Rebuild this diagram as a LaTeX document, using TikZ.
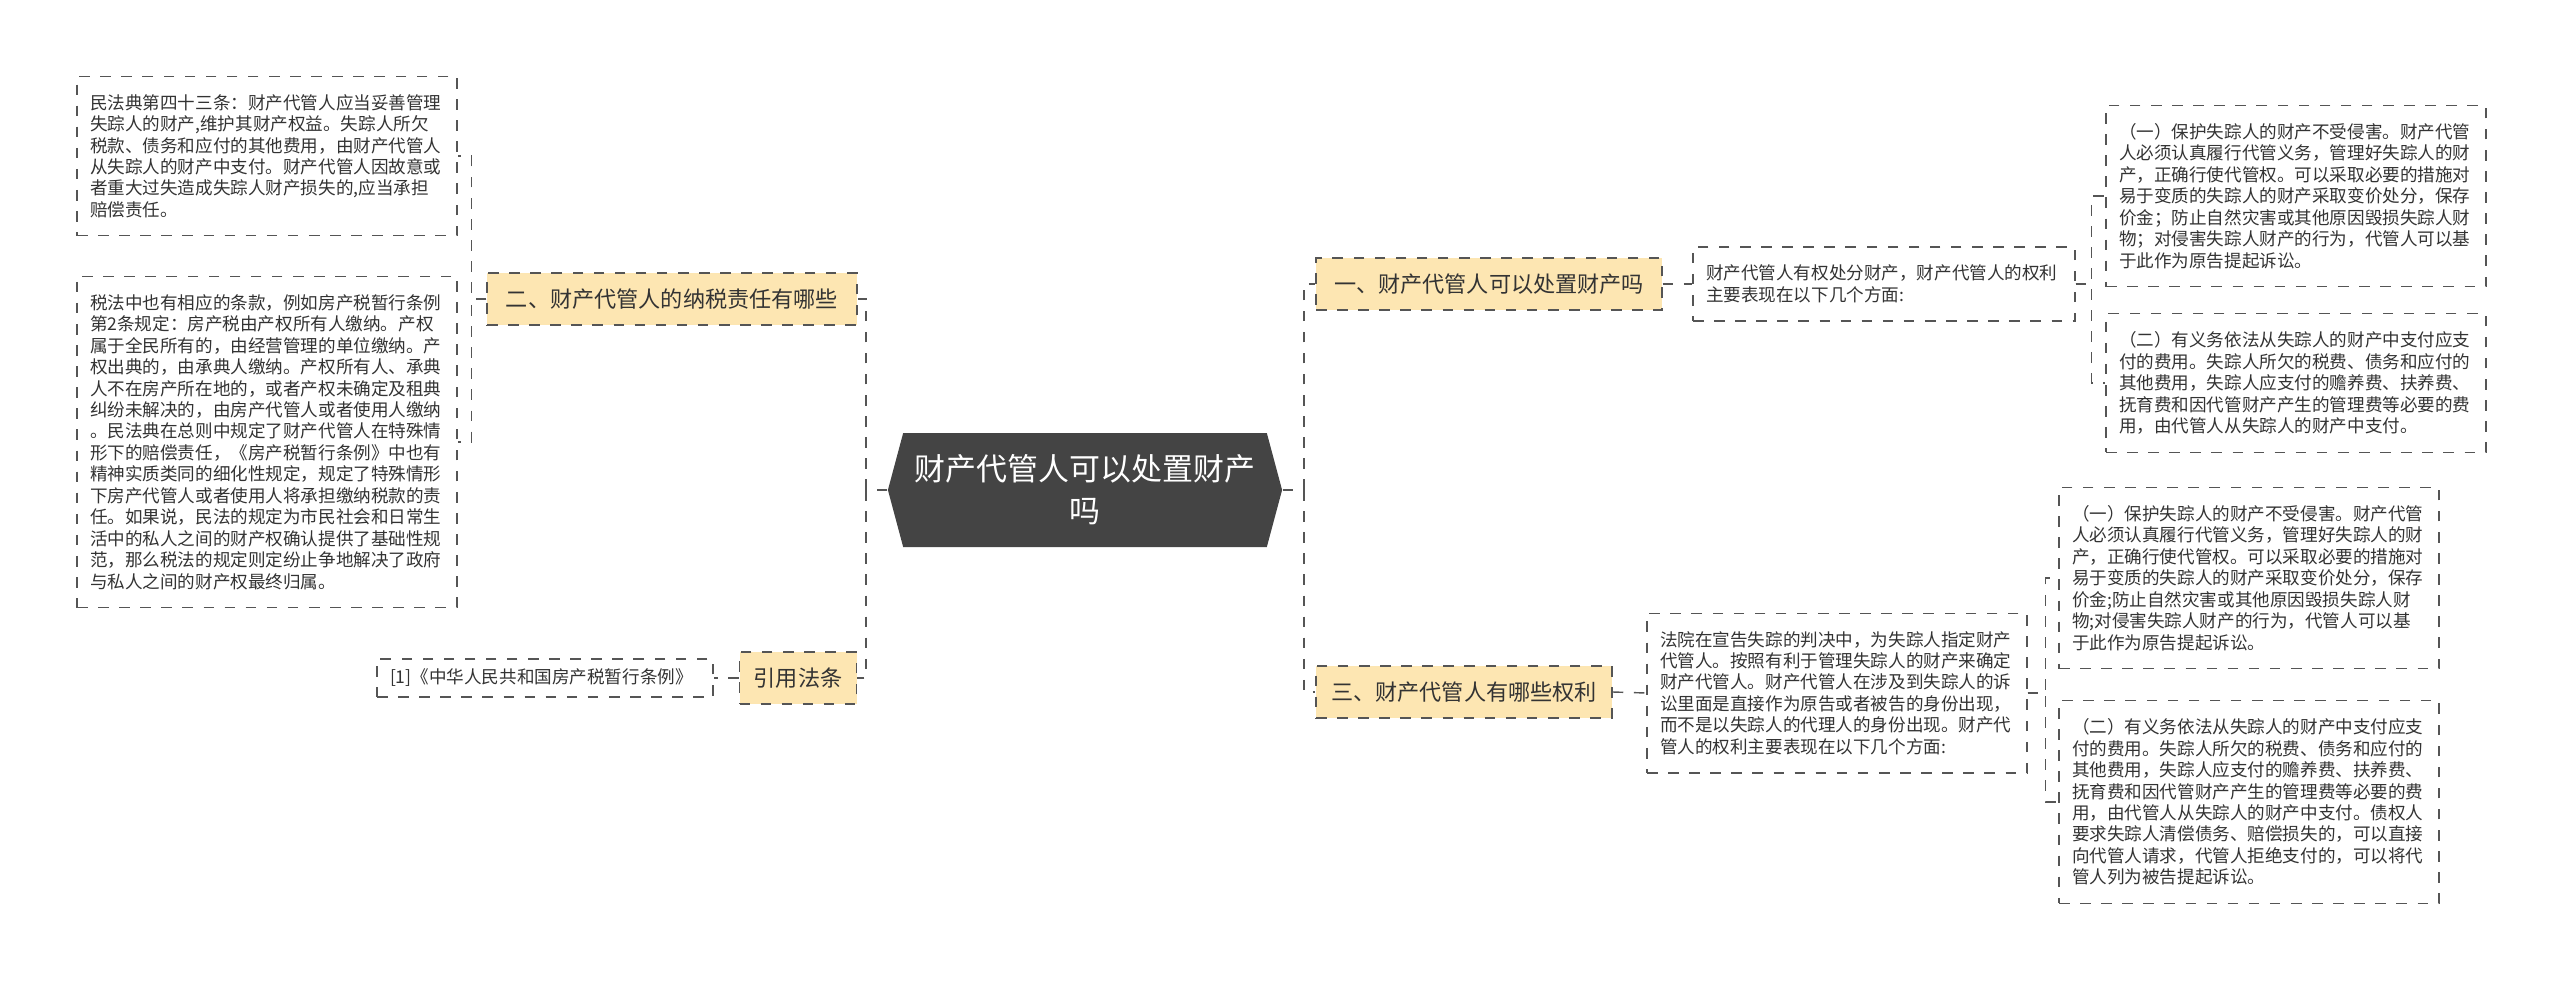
\documentclass[tikz,border=0pt]{standalone}
\usepackage{fontspec}
\setmainfont{Noto Sans CJK SC}
\usetikzlibrary{shapes.symbols}
\definecolor{hubgray}{HTML}{444444}
\definecolor{branchfill}{HTML}{FDE6B2}
\definecolor{linegray}{HTML}{555555}
\definecolor{textgray}{HTML}{333333}
\tikzset{
  leafbox/.style={draw=linegray, dashed, fill=white, text=textgray, align=left,
    text width=35.4mm, inner xsep=1.3mm, inner ysep=1.8mm, font=\fontsize{5}{6.1}\selectfont},
  branchbox/.style={draw=linegray, dashed, fill=branchfill, text=textgray,
    minimum height=5.2mm, inner sep=0.8mm, font=\fontsize{6.3}{7.5}\selectfont},
  hubbox/.style={signal, signal to=east and west, signal pointer angle=150,
    fill=hubgray, text=white, align=center, minimum width=38.4mm, minimum height=11.4mm,
    font=\fontsize{8.8}{12}\selectfont},
  link/.style={draw=linegray, dashed, thin}
}
\begin{document}
\begin{tikzpicture}[x=0.1mm, y=-0.1mm]
    \useasboundingbox[fill=white] (0,0) rectangle (2560,986);
    % center
    \node[hubbox] (hub) at (1085,490) {财产代管人可以处置财产\\吗};
    % right side
    \node[branchbox, minimum width=34.6mm] (b1) at (1489,284) {一、财产代管人可以处置财产吗};
    \node[leafbox, text width=35.6mm] (d1) at (1884,284) {财产代管人有权处分财产，财产代管人的权利\\主要表现在以下几个方面:};
    \node[leafbox] (l1a) at (2296,196) {（一）保护失踪人的财产不受侵害。财产代管\\人必须认真履行代管义务，管理好失踪人的财\\产，正确行使代管权。可以采取必要的措施对\\易于变质的失踪人的财产采取变价处分，保存\\价金；防止自然灾害或其他原因毁损失踪人财\\物；对侵害失踪人财产的行为，代管人可以基\\于此作为原告提起诉讼。};
    \node[leafbox] (l1b) at (2296,383) {（二）有义务依法从失踪人的财产中支付应支\\付的费用。失踪人所欠的税费、债务和应付的\\其他费用，失踪人应支付的赡养费、扶养费、\\抚育费和因代管财产产生的管理费等必要的费\\用，由代管人从失踪人的财产中支付。};
    \node[branchbox, minimum width=29.6mm] (b3) at (1464,692) {三、财产代管人有哪些权利};
    \node[leafbox] (d3) at (1837,693) {法院在宣告失踪的判决中，为失踪人指定财产\\代管人。按照有利于管理失踪人的财产来确定\\财产代管人。财产代管人在涉及到失踪人的诉\\讼里面是直接作为原告或者被告的身份出现，\\而不是以失踪人的代理人的身份出现。财产代\\管人的权利主要表现在以下几个方面:};
    \node[leafbox] (l3a) at (2249,578) {（一）保护失踪人的财产不受侵害。财产代管\\人必须认真履行代管义务，管理好失踪人的财\\产，正确行使代管权。可以采取必要的措施对\\易于变质的失踪人的财产采取变价处分，保存\\价金;防止自然灾害或其他原因毁损失踪人财\\物;对侵害失踪人财产的行为，代管人可以基\\于此作为原告提起诉讼。};
    \node[leafbox] (l3b) at (2249,802) {（二）有义务依法从失踪人的财产中支付应支\\付的费用。失踪人所欠的税费、债务和应付的\\其他费用，失踪人应支付的赡养费、扶养费、\\抚育费和因代管财产产生的管理费等必要的费\\用，由代管人从失踪人的财产中支付。债权人\\要求失踪人清偿债务、赔偿损失的，可以直接\\向代管人请求，代管人拒绝支付的，可以将代\\管人列为被告提起诉讼。};
    % left side
    \node[branchbox, minimum width=37mm] (b2) at (672,299) {二、财产代管人的纳税责任有哪些};
    \node[branchbox, minimum width=11.7mm] (b4) at (798,678) {引用法条};
    \node[leafbox] (l2a) at (267,156) {民法典第四十三条：财产代管人应当妥善管理\\失踪人的财产,维护其财产权益。失踪人所欠\\税款、债务和应付的其他费用，由财产代管人\\从失踪人的财产中支付。财产代管人因故意或\\者重大过失造成失踪人财产损失的,应当承担\\赔偿责任。};
    \node[leafbox] (l2b) at (267,442) {税法中也有相应的条款，例如房产税暂行条例\\第2条规定：房产税由产权所有人缴纳。产权\\属于全民所有的，由经营管理的单位缴纳。产\\权出典的，由承典人缴纳。产权所有人、承典\\人不在房产所在地的，或者产权未确定及租典\\纠纷未解决的，由房产代管人或者使用人缴纳\\。民法典在总则中规定了财产代管人在特殊情\\形下的赔偿责任，《房产税暂行条例》中也有\\精神实质类同的细化性规定，规定了特殊情形\\下房产代管人或者使用人将承担缴纳税款的责\\任。如果说，民法的规定为市民社会和日常生\\活中的私人之间的财产权确认提供了基础性规\\范，那么税法的规定则定纷止争地解决了政府\\与私人之间的财产权最终归属。};
    \node[leafbox, text width=31mm, inner ysep=1mm] (l4) at (545,678) {[1]《中华人民共和国房产税暂行条例》};
    % connectors
    \draw[link] (hub.east) -- ++(21,0) |- (b1.west);
    \draw[link] (hub.east) -- ++(21,0) |- (b3.west);
    \draw[link] (b1.east) -- (d1.west);
    \draw[link] (d1.east) -- ++(16,0) |- (l1a.west);
    \draw[link] (d1.east) -- ++(16,0) |- (l1b.west);
    \draw[link] (b3.east) -- (d3.west);
    \draw[link] (d3.east) -- ++(18,0) |- (l3a.west);
    \draw[link] (d3.east) -- ++(18,0) |- (l3b.west);
    \draw[link] (hub.west) -- ++(-21,0) |- (b2.east);
    \draw[link] (hub.west) -- ++(-21,0) |- (b4.east);
    \draw[link] (b2.west) -- ++(-15,0) |- (l2a.east);
    \draw[link] (b2.west) -- ++(-15,0) |- (l2b.east);
    \draw[link] (b4.west) -- (l4.east);
\end{tikzpicture}
\end{document}
